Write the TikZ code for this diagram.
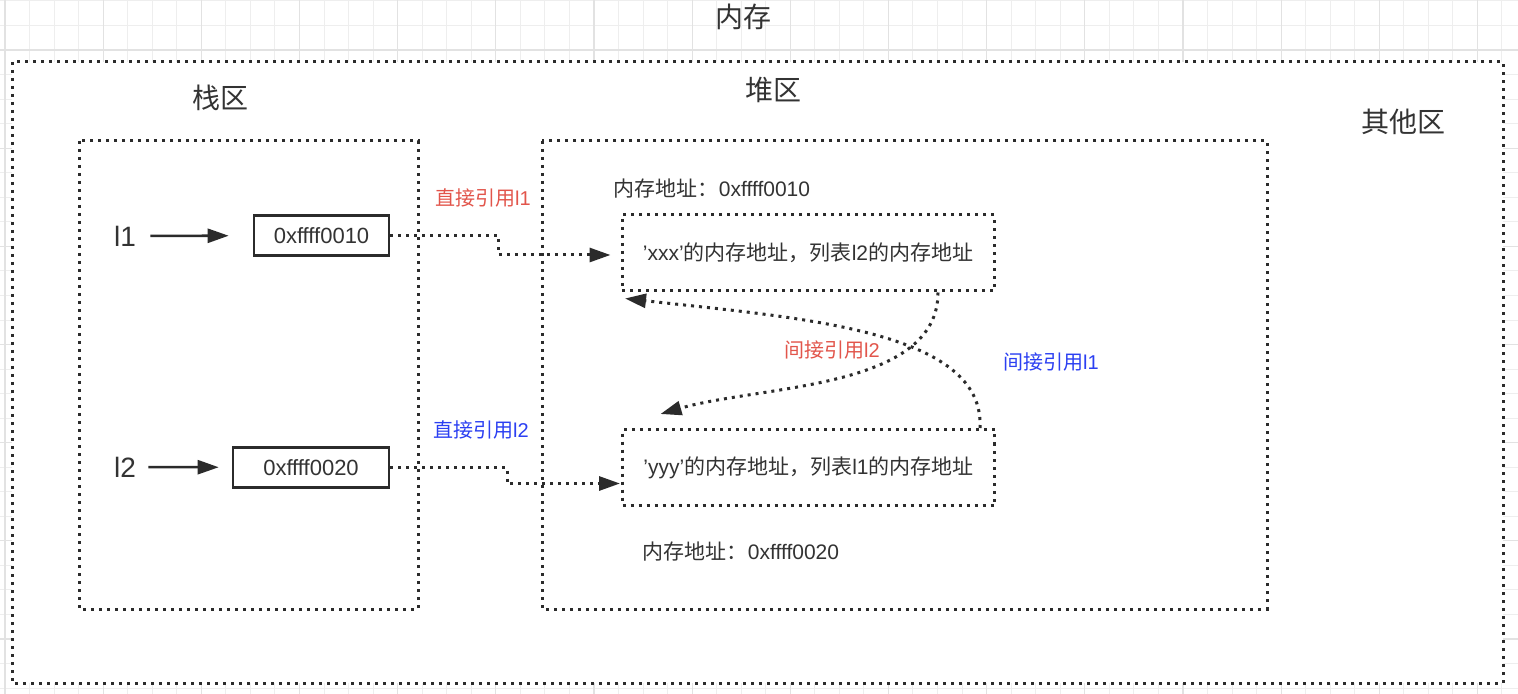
\documentclass[tikz,border=0pt]{standalone}
\usepackage{fontspec}
\setmainfont{Liberation Sans}
\newfontfamily\cjk{Noto Sans CJK SC}
\usepackage{tikz}
\usetikzlibrary{arrows.meta,positioning,calc}

\definecolor{txt}{HTML}{333333}
\definecolor{ink}{HTML}{2B2B2B}
\definecolor{refred}{HTML}{E2554B}
\definecolor{refblue}{HTML}{2B3FF2}
\definecolor{gridminor}{HTML}{EEEEEE}
\definecolor{gridmajor}{HTML}{E2E2E2}

\newcommand{\sq}{{\char"27}}

\begin{document}
\begin{tikzpicture}[
  x=0.5pt,y=-0.5pt,
  every node/.style={text=txt,font=\fontsize{10}{12}\selectfont},
  big/.style={font=\fontsize{14}{16}\selectfont},
  heaptext/.style={font=\fontsize{10.5}{12}\selectfont},
  zone/.style={draw=ink,line width=1.5pt,dash pattern=on 1.5pt off 2.5pt},
  hexbox/.style={draw=ink,line width=1.3pt,minimum height=20pt,inner sep=0pt,
    font=\fontsize{11}{13}\selectfont},
  cell/.style={zone,heaptext,minimum width=186pt,minimum height=38pt,inner sep=0pt},
  ptr/.style={draw=ink,line width=1.3pt,-{Triangle[length=10.5pt,width=7pt]}},
  ref/.style={zone,-{Triangle[length=10.5pt,width=7pt]}}]

\useasboundingbox (0,0) rectangle (1518,694);

% grid of the canvas
\foreach \i in {0,...,61} {
  \pgfmathsetmacro\gx{5+24.54*\i}
  \draw[gridminor,line width=0.5pt] (\gx,0) -- (\gx,694);
}
\foreach \j in {0,...,28} {
  \pgfmathsetmacro\gy{1+24.54*\j}
  \draw[gridminor,line width=0.5pt] (0,\gy) -- (1518,\gy);
}
\foreach \i in {0,4,...,60} {
  \pgfmathsetmacro\gx{5+24.54*\i}
  \draw[gridmajor,line width=0.6pt] (\gx,0) -- (\gx,694);
}
\foreach \j in {2,6,...,26} {
  \pgfmathsetmacro\gy{1+24.54*\j}
  \draw[gridmajor,line width=0.6pt] (0,\gy) -- (1518,\gy);
}

% memory areas
\draw[zone,fill=white] (12,62) rectangle (1503,683);
\draw[zone] (79,141) rectangle (418,609);
\draw[zone] (542,141) rectangle (1267,609);

\node[big] (memory) at (743,17) {\cjk 内存};
\node[big] (stackname) at (220,98) {\cjk 栈区};
\node[big] (heapname) at (773,90) {\cjk 堆区};
\node[big] (othername) at (1403,122) {\cjk 其他区};

% stack
\node[big,inner sep=0pt] (l1) at (125,236) {l1};
\node[big,inner sep=0pt] (l2) at (125,467) {l2};
\node[hexbox,minimum width=67.5pt] (hex1) at (321.5,235.5) {0xffff0010};
\node[hexbox,minimum width=78pt] (hex2) at (311,467.5) {0xffff0020};

\draw[ptr,shorten <=7pt,shorten >=12pt] (l1) -- (hex1);
\draw[ptr,shorten <=6pt,shorten >=6.5pt] (l2) -- (hex2);

% heap
\node[heaptext] (addr1) at (712,189) {{\cjk 内存地址：}0xffff0010};
\node[cell] (cell1) at (808,253) {\sq xxx\sq{\cjk 的内存地址，列表}l2{\cjk 的内存地址}};
\node[cell] (cell2) at (808.5,467.5) {\sq yyy\sq{\cjk 的内存地址，列表}l1{\cjk 的内存地址}};
\node[heaptext] (addr2) at (741,552) {{\cjk 内存地址：}0xffff0020};

% references
\draw[ref] (hex1.east) -- ++(108,0) |- ([shift={(-10,2)}]cell1.west);
\draw[ref] (hex2.east) -- ++(117,0) |- ([shift={(-1,16)}]cell2.west);
\node[text=refred] (direct1) at (483,198) {{\cjk 直接引用}l1};
\node[text=refblue] (direct2) at (481,430) {{\cjk 直接引用}l2};

\draw[ref] ([xshift=65pt]cell1.south) .. controls (938,390) and (760,385) .. ([shift={(-148,-14)}]cell2.north);
\draw[ref] ([xshift=85.75pt]cell2.north) .. controls (985,330) and (800,318) .. ([shift={(-183,6)}]cell1.south);
\node[text=refred] (indirect2) at (832,350) {{\cjk 间接引用}l2};
\node[text=refblue] (indirect1) at (1051,362) {{\cjk 间接引用}l1};
\end{tikzpicture}
\end{document}
